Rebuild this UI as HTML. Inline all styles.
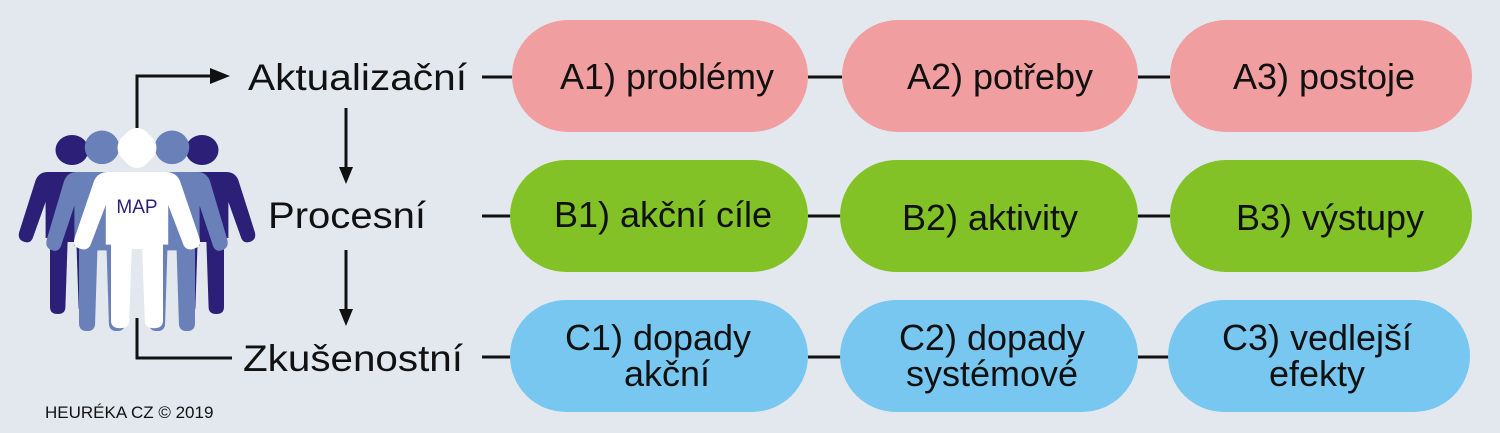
<!DOCTYPE html>
<html><head><meta charset="utf-8"><style>
html,body{margin:0;padding:0;background:#e3e8ee;}
svg{display:block;}
text{font-family:"Liberation Sans",Arial,sans-serif;fill:#111;}
</style></head><body>
<svg width="1500" height="433" viewBox="0 0 1500 433" xmlns="http://www.w3.org/2000/svg">
<rect width="1500" height="433" fill="#e3e8ee"/>
<defs>
<g id="person">
 <circle cx="0" cy="-22" r="15"/>
 <path d="M-22,0 L22,0 Q30,0 33,8 L48,60 Q50,68 43,70 Q37,72 35,64 L24,30 L24,66 L20,66 L20,135 Q20,142 13,142 Q6,142 6,135 L4,70 L-4,70 L-6,135 Q-6,142 -13,142 Q-20,142 -20,135 L-20,66 L-24,66 L-24,30 L-35,64 Q-37,72 -43,70 Q-50,68 -48,60 L-33,8 Q-30,0 -22,0 Z"/>
</g>
</defs>
<g fill="#2b1f78">
 <use href="#person" transform="translate(72,172) scale(1.1,1)"/>
 <use href="#person" transform="translate(202,172) scale(1.1,1)"/>
</g>
<g fill="#6a80b8">
 <use href="#person" transform="translate(102,172) scale(1.15,1.12)"/>
 <use href="#person" transform="translate(172,172) scale(1.15,1.12)"/>
</g>
<g fill="#ffffff">
 <ellipse cx="137" cy="148" rx="16" ry="20"/>
 <use href="#person" transform="translate(137,172) scale(1.3,1.1)"/>
</g>
<text x="137" y="213" font-size="19" text-anchor="middle" style="fill:#2b1f78">MAP</text>
<g stroke="#111" stroke-width="3" fill="none">
 <path d="M137,128 V76 H214"/>
 <path d="M137,318 V358 H232"/>
 <line x1="346" y1="108" x2="346" y2="170"/>
 <line x1="346" y1="250" x2="346" y2="312"/>
 <line x1="482" y1="77" x2="512" y2="77"/>
 <line x1="482" y1="216" x2="512" y2="216"/>
 <line x1="482" y1="357" x2="512" y2="357"/>
 <line x1="808" y1="77" x2="842" y2="77"/>
 <line x1="1138" y1="77" x2="1170" y2="77"/>
 <line x1="808" y1="216" x2="842" y2="216"/>
 <line x1="1138" y1="216" x2="1170" y2="216"/>
 <line x1="808" y1="357" x2="842" y2="357"/>
 <line x1="1138" y1="357" x2="1170" y2="357"/>
</g>
<g fill="#111">
 <polygon points="210,68 230,76 210,84"/>
 <polygon points="339,167 353,167 346,184"/>
 <polygon points="339,309 353,309 346,326"/>
</g>
<text x="248" y="90" font-size="37" textLength="219" lengthAdjust="spacingAndGlyphs">Aktualizační</text>
<text x="268" y="228" font-size="37" textLength="158" lengthAdjust="spacingAndGlyphs">Procesní</text>
<text x="243" y="371" font-size="37" textLength="220" lengthAdjust="spacingAndGlyphs">Zkušenostní</text>
<text x="45" y="418" font-size="17">HEURÉKA CZ © 2019</text>
<g fill="#f09ea0">
 <rect x="512" y="20" width="296" height="112" rx="56"/>
 <rect x="842" y="20" width="296" height="112" rx="56"/>
 <rect x="1170" y="20" width="302" height="112" rx="56"/>
</g>
<g fill="#82c226">
 <rect x="510" y="160" width="298" height="112" rx="56"/>
 <rect x="840" y="160" width="298" height="112" rx="56"/>
 <rect x="1170" y="160" width="302" height="112" rx="56"/>
</g>
<g fill="#78c7f0">
 <rect x="510" y="300" width="298" height="112" rx="56"/>
 <rect x="840" y="300" width="298" height="112" rx="56"/>
 <rect x="1168" y="300" width="302" height="112" rx="56"/>
</g>
<g font-size="36" text-anchor="middle">
 <text x="667" y="89">A1) problémy</text>
 <text x="1000" y="89">A2) potřeby</text>
 <text x="1324" y="89">A3) postoje</text>
 <text x="663" y="227">B1) akční cíle</text>
 <text x="990" y="230">B2) aktivity</text>
 <text x="1330" y="230">B3) výstupy</text>
 <text x="658" y="350">C1) dopady</text>
 <text x="667" y="386">akční</text>
 <text x="992" y="350">C2) dopady</text>
 <text x="992" y="386">systémové</text>
 <text x="1317" y="350">C3) vedlejší</text>
 <text x="1317" y="386">efekty</text>
</g>
</svg>
</body></html>
